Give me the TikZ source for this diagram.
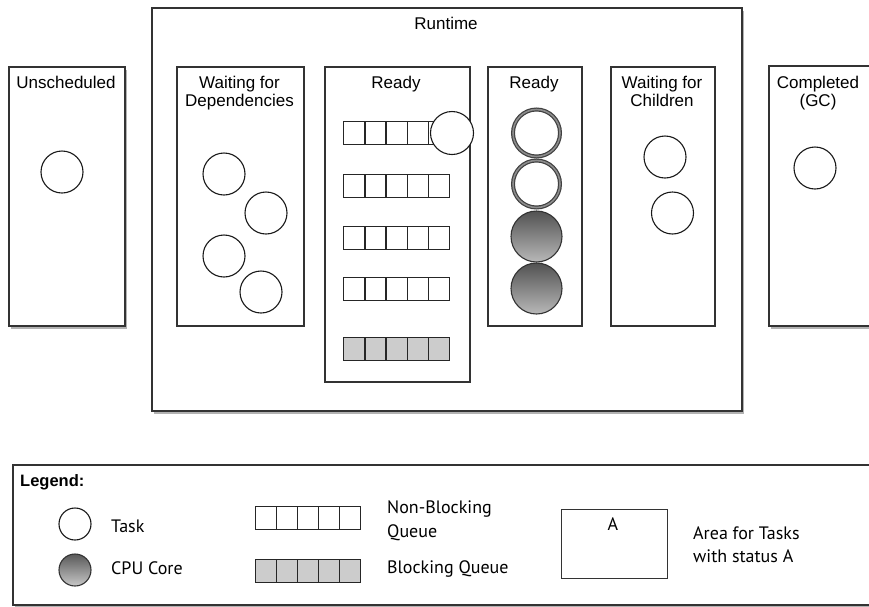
\documentclass[tikz,border=0pt]{standalone}
\usepackage{fontspec}
\setmainfont{Liberation Sans}
\newfontfamily\legfont{PT Sans}
\usetikzlibrary{shadows}
\begin{document}
\begin{tikzpicture}[x=1pt,y=-1pt,
  area/.style={rectangle, draw=black!80, line width=1.6pt, fill=white, inner sep=0, anchor=north west},
  shad/.style={drop shadow={shadow xshift=2.5pt, shadow yshift=-3pt, opacity=0.3, fill=black}},
  title/.style={font=\fontsize{17}{18}\selectfont, align=center, anchor=north, inner sep=0, text=black},
  task/.style={circle, draw=black!90, line width=1.1pt, fill=white, minimum size=42pt, inner sep=0},
  ring/.style={circle, draw=black!75, line width=4pt, fill=white, minimum size=47pt, inner sep=0},
  ringin/.style={circle, draw=black!45, line width=1.6pt, minimum size=47pt, inner sep=0},
  core/.style={circle, draw=black!80, line width=1.1pt, top color=black!68, bottom color=black!28, minimum size=51pt, inner sep=0},
  cell/.style={rectangle, draw=black!85, line width=1.3pt, fill=white, minimum width=21.2pt, minimum height=23pt, anchor=north west, inner sep=0},
  bcell/.style={cell, fill=black!20},
  leg/.style={font=\legfont\fontsize{18}{20}\selectfont, anchor=base west, inner sep=0, text=black}
]
\clip (0,0) rectangle (869,606);
\fill[white] (0,0) rectangle (869,606);

% outer areas
\node[area, shad, minimum width=590pt, minimum height=403pt] (run) at (151,7) {};
\node[title] (runt) at (446,17) {Runtime};

\node[area, shad, minimum width=116pt, minimum height=259pt] (uns) at (8,66) {};
\node[title] (unst) at (66,76) {Unscheduled};
\node[task] (t0) at (62,172) {};

\node[area, shad, minimum width=120pt, minimum height=260pt] (comp) at (768,65) {};
\node[title] (compt) at (818,76) {Completed\\(GC)};
\node[task] (tc) at (815,168) {};

% inner areas
\node[area, minimum width=127pt, minimum height=259pt] (wfd) at (176,66) {};
\node[title] (wfdt) at (239.5,76) {Waiting for\\Dependencies};
\node[task] (d1) at (224,174) {};
\node[task] (d2) at (266,213) {};
\node[task] (d3) at (224,256) {};
\node[task] (d4) at (261,292) {};

\node[area, minimum width=145pt, minimum height=315pt] (rq) at (324,66) {};
\node[title] (rqt) at (396,76) {Ready};
\foreach \r/\yy in {1/121,2/174,3/226,4/277}
  \foreach \i in {0,...,4}
    \node[cell] (q\r c\i) at ({343+21.2*\i},\yy) {};
\foreach \i in {0,...,4}
  \node[bcell] (bq c\i) at ({343+21.2*\i},337) {};
\node[task, minimum size=43pt] (rt) at (452,133) {};

\node[area, minimum width=94pt, minimum height=259pt] (rc) at (487,66) {};
\node[title] (rct) at (534,76) {Ready};
\node[ring] (c1) at (536.5,133) {};
\node[ringin] (c1r) at (c1) {};
\node[ring] (c2) at (536.5,184) {};
\node[ringin] (c2r) at (c2) {};
\node[core] (c3) at (536.5,236.5) {};
\node[core] (c4) at (536.5,288.5) {};

\node[area, minimum width=104pt, minimum height=259pt] (wfc) at (610,66) {};
\node[title] (wfct) at (662,76) {Waiting for\\Children};
\node[task] (w1) at (665,157) {};
\node[task] (w2) at (672.5,213) {};

% legend
\node[area, shad, minimum width=880pt, minimum height=140pt] (legend) at (12,464) {};
\node[anchor=base west, inner sep=0, font=\bfseries\fontsize{16.5}{18}\selectfont, text=black] (legt) at (20,486) {Legend:};
\node[task, minimum size=32pt] (lt) at (75,524) {};
\node[leg] (ltt) at (111,532) {Task};
\node[core, minimum size=32pt, top color=black!65, bottom color=black!22] (lc) at (75,570) {};
\node[leg] (lct) at (111,574) {CPU Core};
\foreach \i in {0,...,4}
  \node[cell, minimum width=21pt, minimum height=22.5pt] (lq c\i) at ({255+21*\i},506) {};
\foreach \i in {0,...,4}
  \node[bcell, minimum width=21pt, minimum height=22.5pt] (lb c\i) at ({255+21*\i},559) {};
\node[leg] (lqt1) at (387,513) {Non-Blocking};
\node[leg] (lqt2) at (387,537) {Queue};
\node[leg] (lbt) at (387,573) {Blocking Queue};
\node[area, line width=1.3pt, minimum width=106pt, minimum height=69pt] (la) at (561,509) {};
\node[leg, anchor=base] (lat) at (613,530) {A};
\node[leg] (lat1) at (693,539) {Area for Tasks};
\node[leg] (lat2) at (693,562) {with status A};
\end{tikzpicture}
\end{document}
